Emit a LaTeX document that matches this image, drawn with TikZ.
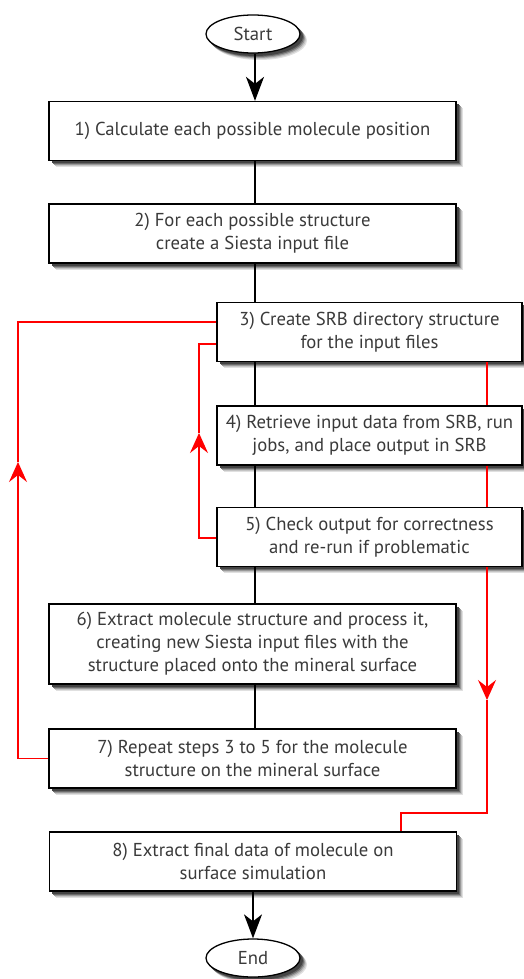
\documentclass[tikz,border=0pt]{standalone}
\usepackage{fontspec}
\setmainfont{PT Sans}
\usetikzlibrary{shapes.geometric,arrows.meta}
\definecolor{txt}{HTML}{3A3A3A}
\definecolor{sh1}{HTML}{E0E0E0}
\definecolor{sh2}{HTML}{C4C4C4}
\definecolor{sh3}{HTML}{999999}
\definecolor{sh4}{HTML}{6A6A6A}
\definecolor{sh5}{HTML}{444444}
\begin{document}
\begin{tikzpicture}[x=1pt,y=-1pt,
  box/.style={draw=black, line width=1.3pt, fill=white, rectangle, inner sep=0pt,
    minimum width=#1, minimum height=59pt, align=center, text=txt,
    font=\fontsize{18.7}{22.8}\selectfont},
  term/.style={draw=black, line width=1.3pt, fill=white, ellipse, inner sep=0pt,
    minimum width=94pt, minimum height=38pt, text=txt,
    font=\fontsize{18.7}{22.8}\selectfont},
  blk/.style={line width=1.5pt, black},
  rd/.style={line width=1.4pt, red},
  bigtip/.style={-{Stealth[length=24pt, width=18pt, inset=7pt]}},
  redtip/.style={-{Stealth[length=20pt, width=18pt, inset=7pt]}}
]
\useasboundingbox (0,0) rectangle (524,979);

% shadows (drawn first, under the boxes)
\foreach \s/\col in {6.5/sh1, 5.5/sh2, 4.5/sh3, 3.5/sh4, 2.5/sh5}{
  \foreach \cx/\cy/\w/\h in {252.5/131/407/59, 252.5/233.5/407/59, 369.5/332/305/59,
      369.5/435.5/305/59, 369.5/537/305/59, 252.5/644/407/80, 252.5/758.5/407/59, 253/861.5/407/59}{
    \fill[\col] (\cx-\w/2+\s, \cy-\h/2+\s) rectangle (\cx+\w/2+\s, \cy+\h/2+\s);
  }
  \fill[\col] (253+\s, 34+\s) ellipse [x radius=47.5, y radius=19.5];
  \fill[\col] (253+\s, 958+\s) ellipse [x radius=47.5, y radius=19.5];
}

\node[term] (start) at (253,34) {Start};
\node[box=407pt] (b1) at (252.5,131) {1) Calculate each possible molecule position};
\node[box=407pt] (b2) at (252.5,233.5) {2) For each possible structure\\create a Siesta input file};
\node[box=305pt] (b3) at (369.5,332) {3) Create SRB directory structure\\for the input files};
\node[box=305pt] (b4) at (369.5,435.5) {4) Retrieve input data from SRB, run\\jobs, and place output in SRB};
\node[box=305pt] (b5) at (369.5,537) {5) Check output for correctness\\and re-run if problematic};
\node[box=407pt, minimum height=80pt] (b6) at (252.5,644) {6) Extract molecule structure and process it,\\creating new Siesta input files with the\\structure placed onto the mineral surface};
\node[box=407pt] (b7) at (252.5,758.5) {7) Repeat steps 3 to 5 for the molecule\\structure on the mineral surface};
\node[box=407pt] (b8) at (253,861.5) {8) Extract final data of molecule on\\surface simulation};
\node[term] (end) at (253,958) {End};

\coordinate (xl) at (255,0);
\coordinate (xr) at (487,0);

% black connectors
\draw[blk, bigtip] (start.south -| xl) -- (b1.north -| xl);
\draw[blk] (b1.south -| xl) -- (b2.north -| xl);
\draw[blk] (b2.south -| xl) -- (b3.north -| xl);
\draw[blk] (b3.south -| xl) -- (b4.north -| xl);
\draw[blk] (b4.south -| xl) -- (b5.north -| xl);
\draw[blk] (b5.south -| xl) -- (b6.north -| xl);
\draw[blk] (b6.south -| xl) -- (b7.north -| xl);
\draw[blk, bigtip] (b8.south) -- (end.north);

% red connectors
\coordinate (la) at (18,462);
\coordinate (lb) at (199,433);
\coordinate (rc) at (487,700);
\coordinate (rd) at (401,813);
\draw[rd, redtip] (b7.west) -| (la);
\draw[rd] (la) |- ([yshift=10pt]b3.west);
\draw[rd, redtip] ([yshift=-1pt]b5.west) -| (lb);
\draw[rd] (lb) |- ([yshift=-12pt]b3.west);
\draw[rd] (b3.south -| xr) -- (b4.north -| xr);
\draw[rd] (b4.south -| xr) -- (b5.north -| xr);
\draw[rd, redtip] (b5.south -| xr) -- (rc);
\draw[rd] (rc) |- (rd) -- (b8.north -| rd);
\end{tikzpicture}
\end{document}
